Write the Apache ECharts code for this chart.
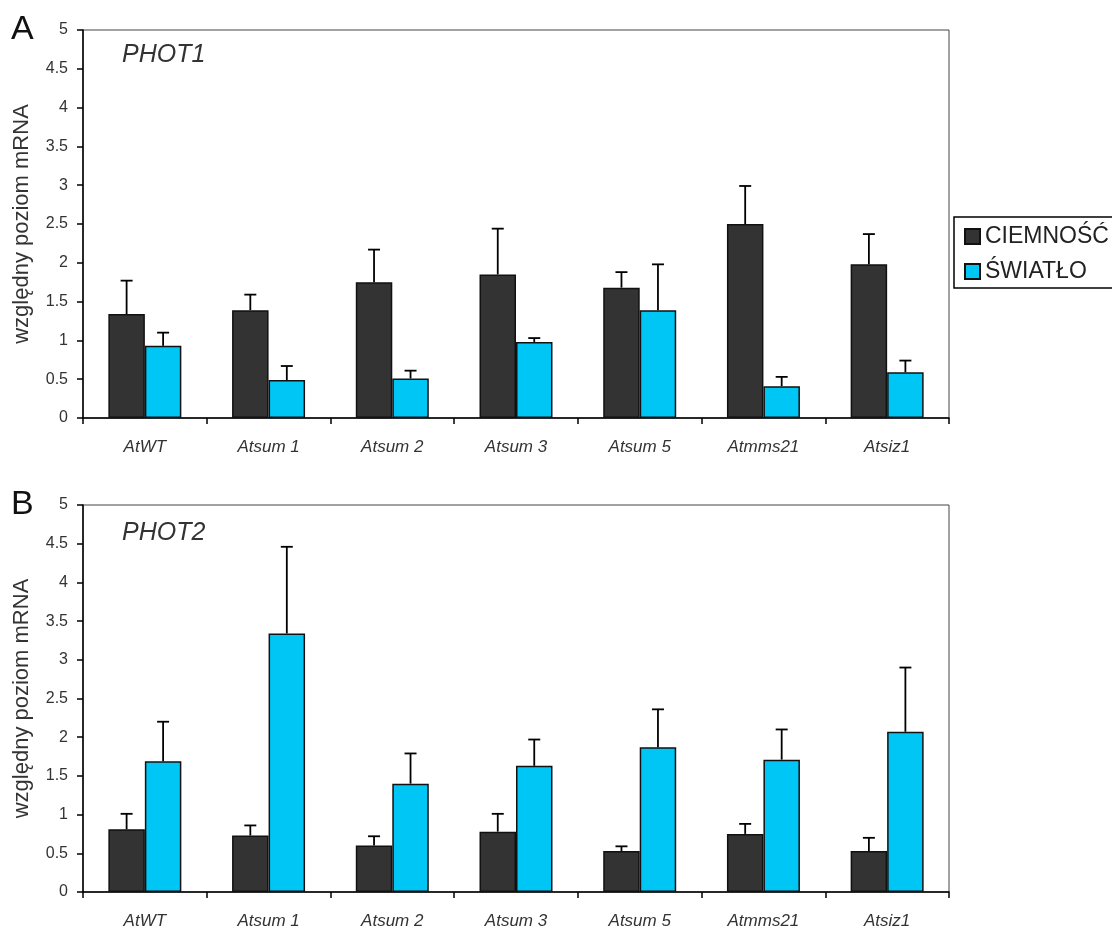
<!DOCTYPE html>
<html>
<head>
<meta charset="utf-8">
<script src="https://cdn.jsdelivr.net/npm/echarts@6/dist/echarts.min.js"></script>
<style>
  html, body { margin: 0; padding: 0; background: #fff; }
  #chart { width: 1112px; height: 930px; }
</style>
</head>
<body>
<div id="chart"></div>
<script>
const categories = ['AtWT', 'Atsum 1', 'Atsum 2', 'Atsum 3', 'Atsum 5', 'Atmms21', 'Atsiz1'];
const seriesNames = ['CIEMNOŚĆ', 'ŚWIATŁO'];
const yTicks = [0, 0.5, 1, 1.5, 2, 2.5, 3, 3.5, 4, 4.5, 5];

// PHOT1 (panel A)
const phot1Dark = [1.34, 1.39, 1.75, 1.85, 1.68, 2.50, 1.98];
const phot1DarkErr = [0.43, 0.20, 0.42, 0.59, 0.20, 0.49, 0.39];
const phot1Light = [0.93, 0.49, 0.51, 0.98, 1.39, 0.41, 0.59];
const phot1LightErr = [0.17, 0.18, 0.10, 0.05, 0.59, 0.12, 0.15];

// PHOT2 (panel B)
const phot2Dark = [0.81, 0.73, 0.60, 0.78, 0.53, 0.75, 0.53];
const phot2DarkErr = [0.20, 0.13, 0.12, 0.23, 0.06, 0.13, 0.17];
const phot2Light = [1.69, 3.34, 1.40, 1.63, 1.87, 1.71, 2.07];
const phot2LightErr = [0.51, 1.12, 0.39, 0.34, 0.49, 0.39, 0.83];

const darkColor = '#333333';
const lightColor = '#00c6f6';
const barShare = 0.59;

const chart = echarts.init(document.getElementById('chart'));

// error bar, only upward, with a cap
function errorBar(side) {
  return function (params, api) {
    const idx = api.value(0);
    const mean = api.value(1);
    const err = api.value(2);
    const band = api.size([1, 0])[0];
    const shift = side * band * barShare / 4;
    const base = api.coord([idx, mean]);
    const top = api.coord([idx, mean + err]);
    const x = base[0] + shift;
    const style = { stroke: '#000', lineWidth: 1.8 };
    return {
      type: 'group',
      children: [
        { type: 'line', shape: { x1: x, y1: base[1], x2: x, y2: top[1] }, style: style },
        { type: 'line', shape: { x1: x - 6, y1: top[1], x2: x + 6, y2: top[1] }, style: style }
      ]
    };
  };
}

function errData(vals, errs) {
  return vals.map((v, i) => [i, v, errs[i]]);
}

function xAxisFor(gridIndex) {
  return {
    type: 'category',
    gridIndex: gridIndex,
    data: categories,
    axisLine: { lineStyle: { color: '#000', width: 1.5 } },
    axisTick: { show: true, length: 6, lineStyle: { color: '#000', width: 1.5 } },
    axisLabel: { margin: 21, fontSize: 17, fontStyle: 'italic', color: '#333', fontFamily: 'Liberation Sans' }
  };
}

function yAxisFor(gridIndex) {
  return {
    type: 'value',
    gridIndex: gridIndex,
    min: 0,
    max: 5,
    interval: 0.5,
    name: 'względny poziom mRNA',
    nameLocation: 'middle',
    nameRotate: 90,
    nameGap: 50,
    nameTextStyle: { fontSize: 22, color: '#333', fontFamily: 'Liberation Sans' },
    axisLine: { show: true, lineStyle: { color: '#000', width: 1.5 } },
    axisTick: { show: true, length: 6, lineStyle: { color: '#000', width: 1.5 } },
    splitLine: { show: false },
    axisLabel: {
      margin: 15, fontSize: 16, color: '#333', fontFamily: 'Liberation Sans',
      formatter: v => yTicks.indexOf(v) >= 0 ? String(v) : ''
    }
  };
}

function barSeries(name, data, color, axisIndex) {
  return {
    name: name,
    type: 'bar',
    xAxisIndex: axisIndex,
    yAxisIndex: axisIndex,
    data: data,
    barGap: '0%',
    barCategoryGap: '41%',
    itemStyle: { color: color, borderColor: '#111', borderWidth: 1.5 }
  };
}

function errSeries(vals, errs, side, axisIndex) {
  return {
    type: 'custom',
    xAxisIndex: axisIndex,
    yAxisIndex: axisIndex,
    renderItem: errorBar(side),
    data: errData(vals, errs),
    z: 5,
    silent: true
  };
}

const option = {
  backgroundColor: '#fff',
  animation: false,
  grid: [
    { left: 83, top: 30, width: 866, height: 388, show: true, borderColor: '#444', borderWidth: 1 },
    { left: 83, top: 505, width: 866, height: 387, show: true, borderColor: '#444', borderWidth: 1 }
  ],
  legend: {
    orient: 'vertical',
    left: 954,
    top: 217,
    data: seriesNames,
    icon: 'rect',
    itemWidth: 15,
    itemHeight: 15,
    itemGap: 10,
    padding: [7, 8, 4, 10],
    borderColor: '#000',
    borderWidth: 1.5,
    textStyle: { fontSize: 23, color: '#222', fontFamily: 'Liberation Sans', lineHeight: 25 }
  },
  graphic: [
    { type: 'text', left: 11, top: 13, style: { text: 'A', fontSize: 34, fill: '#111', fontFamily: 'Liberation Sans' } },
    { type: 'text', left: 11, top: 488, style: { text: 'B', fontSize: 34, fill: '#111', fontFamily: 'Liberation Sans' } },
    { type: 'text', left: 122, top: 43, style: { text: 'PHOT1', fontSize: 25, fontStyle: 'italic', fill: '#333', fontFamily: 'Liberation Sans' } },
    { type: 'text', left: 122, top: 521, style: { text: 'PHOT2', fontSize: 25, fontStyle: 'italic', fill: '#333', fontFamily: 'Liberation Sans' } }
  ],
  xAxis: [xAxisFor(0), xAxisFor(1)],
  yAxis: [yAxisFor(0), yAxisFor(1)],
  series: [
    barSeries(seriesNames[0], phot1Dark, darkColor, 0),
    barSeries(seriesNames[1], phot1Light, lightColor, 0),
    barSeries(seriesNames[0], phot2Dark, darkColor, 1),
    barSeries(seriesNames[1], phot2Light, lightColor, 1),
    errSeries(phot1Dark, phot1DarkErr, -1, 0),
    errSeries(phot1Light, phot1LightErr, 1, 0),
    errSeries(phot2Dark, phot2DarkErr, -1, 1),
    errSeries(phot2Light, phot2LightErr, 1, 1)
  ]
};

chart.setOption(option);
</script>
</body>
</html>
